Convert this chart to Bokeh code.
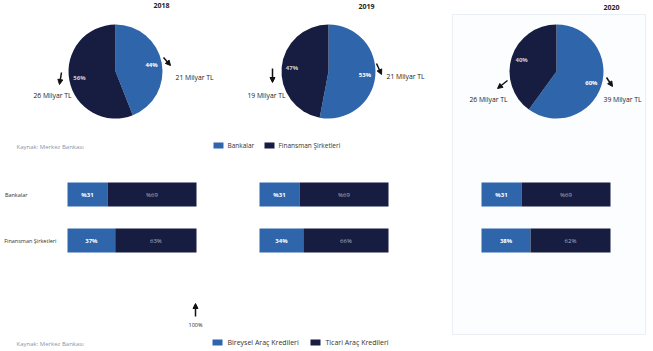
from bokeh.plotting import figure
from bokeh.models import Range1d, Arrow, NormalHead
from bokeh.core.properties import value
from bokeh.embed import file_html
from bokeh.resources import INLINE
import math

# ---------------- data ----------------
years = ["2018", "2019", "2020"]
bank_share = [44, 53, 60]          # Bankalar, %
finance_share = [56, 47, 40]       # Finansman Şirketleri, %
bank_amount = [21, 21, 39]         # Milyar TL
finance_amount = [26, 19, 26]      # Milyar TL

row_labels = ["Bankalar", "Finansman Şirketleri"]
bank_individual = [31, 31, 31]     # Bireysel Araç Kredileri, %
bank_commercial = [69, 69, 69]     # Ticari Araç Kredileri, %
fin_individual = [37, 34, 38]
fin_commercial = [63, 66, 62]

legend1 = ["Bankalar", "Finansman Şirketleri"]
legend2 = ["Bireysel Araç Kredileri", "Ticari Araç Kredileri"]
source_note = "Kaynak: Merkez Bankası"

LIGHT = "#2f66ab"
DARK = "#171d40"
FONT = "Open Sans"

# ---------------- layout ----------------
W, H = 653, 351
p = figure(width=W, height=H, output_backend="svg", toolbar_location=None,
           x_range=Range1d(0, W), y_range=Range1d(0, H),
           min_border=0, outline_line_color=None, background_fill_color="white")
p.axis.visible = False
p.grid.visible = False


def Y(v):
    return H - v


pie_cx = [115, 328, 556]
pie_cy = 71
R = 47
title_pos = [(161, 5), (366, 6), (611, 7)]

# 2020 highlight box
p.quad(left=[452], right=[645], top=[Y(14)], bottom=[Y(334)],
       fill_color="#fcfdfe", line_color="#eaeff6", line_width=1)

bank_txt_pos = [(175, 77), (386, 76), (603, 99)]
fin_txt_pos = [(71, 95), (285, 95), (507, 99)]
bank_arrows = [((163, 57), (170, 65)), ((376, 63), (381, 74)), ((606, 77), (612, 86))]
fin_arrows = [((61, 72), (59, 84)), ((272, 68), (272, 82)), ((507, 80), (497, 88))]

for i, yr in enumerate(years):
    cx, cy = pie_cx[i], Y(pie_cy)
    b = bank_share[i] / 100.0
    a0 = math.pi / 2
    a1 = a0 - 2 * math.pi * b
    p.wedge(x=[cx], y=[cy], radius=R, start_angle=[a1], end_angle=[a0],
            direction="anticlock", fill_color=LIGHT, line_color=None)
    p.wedge(x=[cx], y=[cy], radius=R, start_angle=[a1 - 2 * math.pi * (finance_share[i] / 100.0)],
            end_angle=[a1], direction="anticlock", fill_color=DARK, line_color=None)
    # percentage labels at slice mid angles
    mb = (a0 + a1) / 2
    mf = a1 - math.pi * finance_share[i] / 100.0
    rl = 0.78 * R
    p.text(x=[cx + rl * math.cos(mb)], y=[cy + rl * math.sin(mb)],
           text=[f"{bank_share[i]}%"], text_font=value(FONT), text_font_size="6px",
           text_font_style="bold", text_color="white", text_align="center",
           text_baseline="middle")
    p.text(x=[cx + rl * math.cos(mf)], y=[cy + rl * math.sin(mf)],
           text=[f"{finance_share[i]}%"], text_font=value(FONT), text_font_size="6px",
           text_font_style="bold", text_color="#c9cedb", text_align="center",
           text_baseline="middle")
    # title
    tx, ty = title_pos[i]
    p.text(x=[tx], y=[Y(ty)], text=[yr], text_font=value(FONT), text_font_size="7px",
           text_font_style="bold", text_color="#222222", text_align="center",
           text_baseline="middle")
    # amounts
    bx, by = bank_txt_pos[i]
    p.text(x=[bx], y=[Y(by)], text=[f"{bank_amount[i]} Milyar TL"], text_font=value(FONT),
           text_font_size="6.8px", text_color="#222222", text_align="left",
           text_baseline="middle")
    fx, fy = fin_txt_pos[i]
    p.text(x=[fx], y=[Y(fy)], text=[f"{finance_amount[i]} Milyar TL"], text_font=value(FONT),
           text_font_size="6.8px", text_color="#222222", text_align="right",
           text_baseline="middle")
    for (s, e) in (bank_arrows[i], fin_arrows[i]):
        p.add_layout(Arrow(end=NormalHead(size=5, fill_color="#111111", line_color="#111111"),
                           x_start=s[0], y_start=Y(s[1]), x_end=e[0], y_end=Y(e[1]),
                           line_color="#111111", line_width=1.5))


def legend(yc, labels, xs, fs):
    for (sx, tx), lab, col in zip(xs, labels, [LIGHT, DARK]):
        p.rect(x=[sx + 5], y=[Y(yc)], width=10, height=6, fill_color=col, line_color=None)
        p.text(x=[tx], y=[Y(yc)], text=[lab], text_font=value(FONT), text_font_size=fs,
               text_color="#333333", text_align="left", text_baseline="middle")


legend(145, legend1, [(213, 227), (264, 278)], "6.5px")
p.text(x=[16], y=[Y(146)], text=[source_note], text_font=value(FONT), text_font_size="6px",
       text_color="#8a93a8", text_align="left", text_baseline="middle")

# stacked bars
bar_x0 = [67, 259, 481]
bar_w = 129
row_y = [194, 240]
row_label_right = [27, 56]
rows = [(bank_individual, bank_commercial, "%{}", "%{}"),
        (fin_individual, fin_commercial, "{}%", "{}%")]
for r, (ind, com, f1, f2) in enumerate(rows):
    yc = Y(row_y[r])
    p.text(x=[row_label_right[r]], y=[yc], text=[row_labels[r]], text_font=value(FONT),
           text_font_size="5.5px", text_color="#333333", text_align="right",
           text_baseline="middle")
    for i in range(3):
        x0 = bar_x0[i]
        xm = x0 + bar_w * ind[i] / 100.0
        x1 = xm + bar_w * com[i] / 100.0
        p.hbar(y=[yc], left=[x0], right=[xm], height=24, fill_color=LIGHT, line_color=None)
        p.hbar(y=[yc], left=[xm], right=[x1], height=24, fill_color=DARK, line_color=None)
        p.text(x=[(x0 + xm) / 2], y=[yc], text=[f1.format(ind[i])], text_font=value(FONT),
               text_font_size="6px", text_font_style="bold", text_color="white",
               text_align="center", text_baseline="middle")
        p.text(x=[(xm + x1) / 2], y=[yc], text=[f2.format(com[i])], text_font=value(FONT),
               text_font_size="6px", text_color="#aab2c6",
               text_align="center", text_baseline="middle")

# 100% marker
p.add_layout(Arrow(end=NormalHead(size=5, fill_color="#111111", line_color="#111111"),
                   x_start=195, y_start=Y(316), x_end=195, y_end=Y(303),
                   line_color="#111111", line_width=1.5))
p.text(x=[195], y=[Y(324)], text=["100%"], text_font=value(FONT), text_font_size="5.5px",
       text_color="#222222", text_align="center", text_baseline="middle")

legend(342, legend2, [(212, 227), (310, 325)], "7px")
p.text(x=[16], y=[Y(343)], text=[source_note], text_font=value(FONT), text_font_size="6px",
       text_color="#8a93a8", text_align="left", text_baseline="middle")

open("out.html", "w").write(file_html(p, INLINE))
